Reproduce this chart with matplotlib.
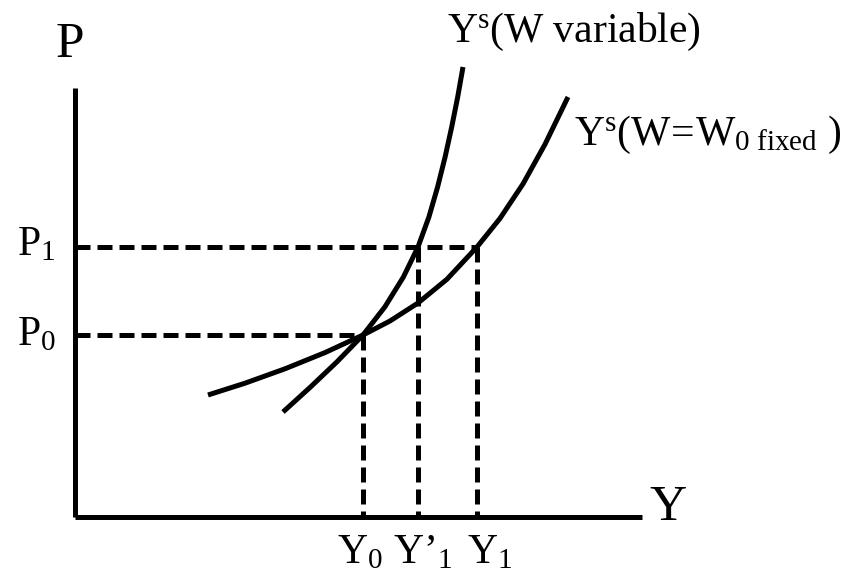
import matplotlib.pyplot as plt
import numpy as np

plt.rcParams['mathtext.fontset'] = 'custom'
plt.rcParams['mathtext.rm'] = 'Liberation Serif'
plt.rcParams['mathtext.it'] = 'Liberation Serif:italic'
plt.rcParams['font.family'] = ['Liberation Serif', 'DejaVu Serif']

# diagram units: origin at the corner of the axes, Y to the right, P up
y_axis_len = 567
p_axis_len = 429

# Ys with W variable (steep)
var_y = np.array([208, 235.5, 261.8, 288, 309.8, 328.4, 343, 353.9, 362.6, 370.1, 376.7, 382.7, 388])
var_p = np.array([105, 130, 155, 182, 210, 240, 270, 300, 330, 360, 390, 420, 450])

# Ys with W = W0 fixed (flatter)
fix_y = np.array([133, 170, 210, 250, 288, 315, 343, 372, 402, 425, 448, 470, 493])
fix_p = np.array([122, 133.8, 148.2, 164.4, 182, 196, 214, 237.8, 270, 298.6, 333.1, 372.7, 420])

P0, P1 = 182, 270
Y0, Y1p, Y1 = 288, 343, 402

fig = plt.figure(figsize=(8.64, 5.8), dpi=100)
ax = fig.add_axes([0, 0, 1, 1])
ax.set_xlim(-75, 789)
ax.set_ylim(-63, 517)
ax.axis('off')

lw = 3.6
dash = (0, (3, 1.4))

# axes
ax.plot([0, 0], [0, p_axis_len], color='black', lw=lw, solid_capstyle='butt')
ax.plot([0, y_axis_len], [0, 0], color='black', lw=lw, solid_capstyle='butt')

# curves
ax.plot(var_y, var_p, color='black', lw=lw, solid_capstyle='butt', solid_joinstyle='round')
ax.plot(fix_y, fix_p, color='black', lw=lw, solid_capstyle='butt', solid_joinstyle='round')

# dashed guides
ax.plot([0, Y1], [P1, P1], color='black', lw=lw, linestyle=dash)
ax.plot([0, Y0], [P0, P0], color='black', lw=lw, linestyle=dash)
ax.plot([Y0, Y0], [P0, 0], color='black', lw=lw, linestyle=dash)
ax.plot([Y1p, Y1p], [P1, 0], color='black', lw=lw, linestyle=dash)
ax.plot([Y1, Y1], [P1, 0], color='black', lw=lw, linestyle=dash)

# text
ax.text(-5, 472, 'P', fontsize=37, ha='center', va='center')
ax.text(593, 9, 'Y', fontsize=37, ha='center', va='center')
ax.text(372, 475, r'$\mathrm{Y^{s}(W\ variable)}$', fontsize=30, ha='left', va='baseline')
ax.text(499, 372, r'$\mathrm{Y^{s}(W\!=\!W_{0\ fixed}\ )}$', fontsize=30, ha='left', va='baseline')
ax.text(-58, 262, r'$\mathrm{P_{1}}$', fontsize=30, ha='left', va='baseline')
ax.text(-58, 172, r'$\mathrm{P_{0}}$', fontsize=30, ha='left', va='baseline')
ax.text(262, -46, r'$\mathrm{Y_{0}}$', fontsize=30, ha='left', va='baseline')
ax.text(318, -46, r'$\mathrm{Y’_{1}}$', fontsize=30, ha='left', va='baseline')
ax.text(392, -46, r'$\mathrm{Y_{1}}$', fontsize=30, ha='left', va='baseline')

fig.savefig('out.png', dpi=100)
